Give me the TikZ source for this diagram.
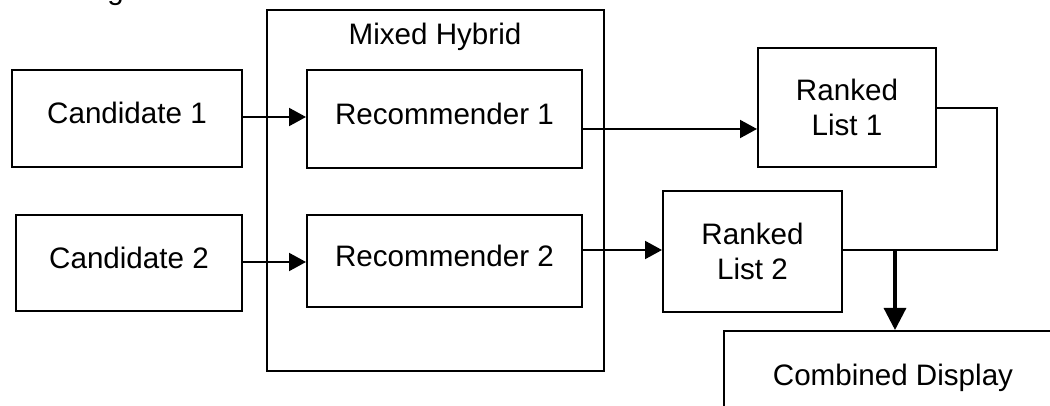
\documentclass[tikz,border=0pt]{standalone}
\usepackage{fontspec}
\setmainfont{Liberation Sans}
\usetikzlibrary{arrows.meta}
\begin{document}
\begin{tikzpicture}[x=0.5pt,y=-0.5pt,
  box/.style={draw=black,line width=1pt,inner sep=0pt,font=\fontsize{14.8}{17.5}\selectfont,text height=10.5pt,text depth=5pt},
  rbox/.style={draw=black,line width=1pt,inner sep=0pt,align=center,font=\fontsize{14.8}{17.5}\selectfont},
  conn/.style={draw=black,line width=1pt},
  arr/.style={conn,-{Triangle[length=8.5pt,width=9pt]}},
  bigarr/.style={draw=black,line width=1.6pt,-{Triangle[length=11pt,width=11pt]}},
  lbl/.style={font=\fontsize{14.8}{17.5}\selectfont,inner sep=0pt}]
\useasboundingbox (0,0) rectangle (1050,406);
% cut-off title
\node[lbl,anchor=base west] (scoring) at (23,0) {Scoring};
% outer group
\node[draw=black,line width=1pt,minimum width=168.5pt,minimum height=180.5pt,inner sep=0pt] (mixed) at (435.5,190.5) {};
\node[lbl] (mixedlbl) at (435,37) {Mixed Hybrid};
% boxes
\node[box,minimum width=115pt,minimum height=48.5pt] (c1) at (127,118.5) {Candidate 1};
\node[box,minimum width=113pt,minimum height=48pt] (c2) at (129,263) {Candidate 2};
\node[box,minimum width=137.5pt,minimum height=49pt] (r1) at (444.5,119) {Recommender 1};
\node[box,minimum width=137.5pt,minimum height=46pt] (r2) at (444.5,261) {Recommender 2};
\node[rbox,minimum width=89pt,minimum height=59.5pt] (l1) at (847,107.5) {Ranked\\List 1};
\node[rbox,minimum width=89.5pt,minimum height=60.5pt] (l2) at (752.5,251.5) {Ranked\\List 2};
\node[box,minimum width=169pt,minimum height=44pt,text height=10.5pt,text depth=0pt] (cd) at (893,375) {Combined Display};
% junction coordinates
\coordinate (t1) at (997,108);
\coordinate (t2) at (997,250);
\coordinate (j) at (895,250);
% connectors
\draw[arr] (c1.east |- 0,117) -- (r1.west |- 0,117);
\draw[arr] (c2.east |- 0,262) -- (r2.west |- 0,262);
\draw[arr] (r1.east |- 0,129) -- (l1.west |- 0,129);
\draw[arr] (r2.east |- 0,250) -- (l2.west |- 0,250);
\draw[conn] (l1.east |- t1) -- (t1) -- (t2) -- (j);
\draw[conn] (l2.east |- j) -- (j);
\draw[bigarr] (j) -- (j |- cd.north);
\end{tikzpicture}
\end{document}
